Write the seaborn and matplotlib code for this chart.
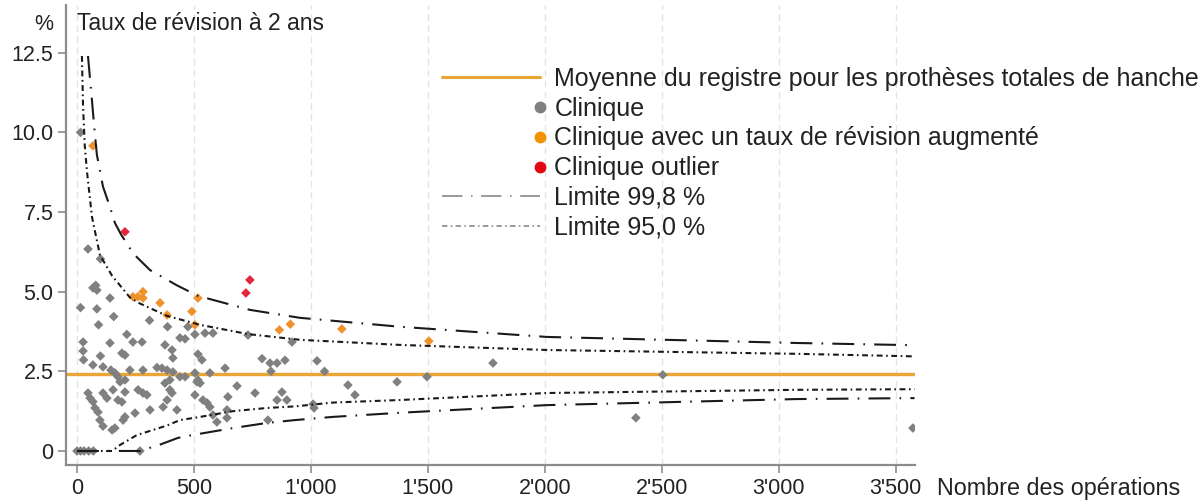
import numpy as np
import pandas as pd
import matplotlib
matplotlib.use("Agg")
import matplotlib.pyplot as plt
import seaborn as sns
from matplotlib.lines import Line2D
from matplotlib.legend_handler import HandlerLine2D

# ---------------- data ----------------
grey_x = [15, 47, 100, 68, 80, 85, 15, 85, 141, 157, 92, 213, 310, 387, 440, 474, 504, 547, 581, 731, 919,
          26, 26, 28, 100, 141, 192, 205, 239, 278, 376, 406, 462, 410, 517, 534,
          68, 111, 145, 162, 175, 184, 205, 226, 282, 342, 363, 385, 410, 440, 462, 504, 517, 526, 568, 633,
          791, 825, 855, 889, 829, 1026, 1058, 1158, 1188, 1368, 1496, 1778, 2504, 2389, 3573,
          47, 56, 68, 77, 90, 98, 111, 150, 162, 111, 128, 154, 175, 192, 205, 205, 197, 248, 261, 282, 299,
          312, 368, 376, 397, 397, 406, 385, 427, 504, 538, 556, 568, 581, 598, 641, 645, 641, 684, 761, 816,
          855, 876, 897, 1009, 1013, 513,
          0, 15, 30, 50, 70, 269]
grey_y = [10.0, 6.34, 6.03, 5.12, 5.2, 5.05, 4.5, 4.46, 4.8, 4.22, 3.96, 3.66, 4.1, 3.9, 3.55, 3.9, 3.66, 3.7, 3.7, 3.64, 3.42,
          3.42, 3.14, 2.86, 2.98, 3.39, 3.07, 3.01, 3.42, 3.42, 3.33, 3.17, 3.52, 2.92, 3.04, 2.86,
          2.70, 2.64, 2.54, 2.45, 2.33, 2.17, 2.23, 2.54, 2.54, 2.62, 2.60, 2.54, 2.48, 2.33, 2.33, 2.45, 2.23, 2.13, 2.45, 2.60,
          2.90, 2.76, 2.76, 2.85, 2.50, 2.83, 2.50, 2.07, 1.76, 2.17, 2.33, 2.76, 2.39, 1.04, 0.72,
          1.82, 1.66, 1.55, 1.35, 1.22, 0.97, 0.78, 0.66, 0.72, 1.82, 1.66, 1.92, 1.60, 1.54, 1.85, 1.07, 0.97, 1.19, 1.92, 1.82, 1.76,
          1.29, 1.38, 2.13, 2.23, 1.92, 1.82, 1.60, 1.29, 1.76, 1.60, 1.51, 1.38, 1.13, 0.91, 1.29, 1.70, 1.04, 2.04, 1.82, 0.97,
          1.60, 1.85, 1.60, 1.47, 1.35, 2.17,
          0, 0, 0, 0, 0, 0]

orange_x = [68, 239, 260, 282, 282, 355, 385, 491, 504, 517, 865, 912, 1132, 1504]
orange_y = [9.58, 4.84, 4.84, 5.0, 4.80, 4.65, 4.27, 4.38, 3.96, 4.80, 3.80, 3.98, 3.83, 3.45]

red_x = [205, 722, 739]
red_y = [6.88, 4.96, 5.37]

mean_rate = 2.42

up998_x = [47, 64, 77, 85, 111, 141, 162, 188, 240, 312, 427, 517, 739, 953, 1380, 2009, 3077, 3580]
up998_y = [12.4, 11.0, 9.9, 9.3, 8.3, 7.66, 7.16, 6.8, 6.2, 5.68, 5.2, 4.87, 4.43, 4.18, 3.9, 3.58, 3.39, 3.32]
lo998_x = [0, 269, 355, 431, 470, 667, 812, 932, 1094, 1380, 2009, 3077, 3580]
lo998_y = [0, 0, 0.2, 0.41, 0.47, 0.72, 0.88, 0.97, 1.07, 1.2, 1.44, 1.63, 1.66]
up95_x = [21, 26, 33, 43, 64, 98, 150, 226, 269, 385, 526, 731, 953, 1380, 2009, 3077, 3580]
up95_y = [12.4, 10.8, 9.6, 8.75, 7.35, 6.15, 5.5, 4.82, 4.63, 4.24, 3.96, 3.67, 3.49, 3.33, 3.17, 3.05, 2.97]
lo95_x = [0, 150, 184, 256, 385, 440, 526, 667, 812, 932, 1094, 1380, 2009, 3077, 3580]
lo95_y = [0, 0, 0.19, 0.5, 0.8, 0.97, 1.07, 1.25, 1.35, 1.4, 1.52, 1.6, 1.82, 1.92, 1.94]

x_ticks = [0, 500, 1000, 1500, 2000, 2500, 3000, 3500]
x_labels = ["0", "500", "1'000", "1'500", "2'000", "2'500", "3'000", "3'500"]
y_ticks = [0, 2.5, 5.0, 7.5, 10.0, 12.5]
y_labels = ["0", "2.5", "5.0", "7.5", "10.0", "12.5"]

labels = ["Moyenne du registre pour les prothèses totales de hanche",
          "Clinique",
          "Clinique avec un taux de révision augmenté",
          "Clinique outlier",
          "Limite 99,8 %",
          "Limite 95,0 %"]

# ---------------- style ----------------
sns.set_theme(style="white")
plt.rcParams["font.family"] = ["Liberation Sans", "DejaVu Sans"]
FS = 15.5
FS_LEG = 18
TXT = "#222222"
GREY = "#808080"
ORANGE = "#F0922B"
RED = "#E3263B"
MEAN_C = "#E9A535"
LINE_C = "#1a1a1a"

fig = plt.figure(figsize=(12.03, 5.0), dpi=100)
ax = fig.add_axes([66 / 1203, 35 / 500, (915 - 66) / 1203, (465 - 5) / 500])

df = pd.DataFrame({
    "n": grey_x + orange_x + red_x,
    "rate": grey_y + orange_y + red_y,
    "cat": ["g"] * len(grey_x) + ["o"] * len(orange_x) + ["r"] * len(red_x),
})

ax.axhline(mean_rate, color=MEAN_C, lw=2.4, zorder=2)
sns.scatterplot(data=df, x="n", y="rate", hue="cat",
                palette={"g": GREY, "o": ORANGE, "r": RED},
                marker="D", s=24, edgecolor="none", legend=False, ax=ax, zorder=3)

d998 = (10.5, 4.4, 0.8, 4.4)
d95 = (2.8, 1.7, 0.8, 1.7)
ax.plot(up998_x, up998_y, color=LINE_C, lw=1.5, dashes=d998, zorder=4)
ax.plot(lo998_x, lo998_y, color=LINE_C, lw=1.5, dashes=d998, zorder=4)
ax.plot(up95_x, up95_y, color=LINE_C, lw=1.5, dashes=d95, zorder=4)
ax.plot(lo95_x, lo95_y, color=LINE_C, lw=1.5, dashes=d95, zorder=4)

ax.set_xlim(-47, 3582)
ax.set_ylim(-0.44, 14.0)
ax.set_xticks(x_ticks)
ax.set_xticklabels(x_labels, fontsize=FS, color=TXT)
ax.set_yticks(y_ticks)
ax.set_yticklabels(y_labels, fontsize=FS, color=TXT)
ax.set_xlabel("")
ax.set_ylabel("")
ax.tick_params(axis="both", which="major", direction="out", length=6, width=1.2,
               color="#8c8c8c", bottom=True, left=True)
ax.tick_params(axis="x", pad=3)
ax.tick_params(axis="y", pad=3)
ax.xaxis.grid(True, color="#e4e4e4", lw=1.0, ls=(0, (5, 3)))
ax.yaxis.grid(False)
for s in ["top", "right"]:
    ax.spines[s].set_visible(False)
for s in ["left", "bottom"]:
    ax.spines[s].set_color("#8c8c8c")
    ax.spines[s].set_linewidth(1.6)

fig.text(53 / 1203, 1 - 24 / 500, "%", fontsize=FS, ha="right", va="center", color=TXT)
fig.text(77 / 1203, 1 - 24 / 500, "Taux de révision à 2 ans", fontsize=16.5, ha="left", va="center", color=TXT)
fig.text(937 / 1203, 1 - 495 / 500, "Nombre des opérations", fontsize=16.8, ha="left", va="baseline", color=TXT)


class RightMarkerHandler(HandlerLine2D):
    def get_xdata(self, legend, xdescent, ydescent, width, height, fontsize):
        xm = -xdescent + width * 1.01
        return np.array([xm - 1.0, xm + 1.0]), np.array([xm])


handles = [
    Line2D([], [], color=MEAN_C, lw=2.2),
    Line2D([], [], ls="none", marker="o", color=GREY, markersize=7.5),
    Line2D([], [], ls="none", marker="o", color="#F39200", markersize=7.5),
    Line2D([], [], ls="none", marker="o", color="#E30613", markersize=7.5),
    Line2D([], [], color="#9a9a9a", lw=1.4, dashes=d998),
    Line2D([], [], color="#9a9a9a", lw=1.4, dashes=d95),
]
handler_map = {h: RightMarkerHandler() for h in handles[1:4]}
leg = fig.legend(handles, labels, loc="upper left", bbox_to_anchor=(442 / 1203, 1 - 67 / 500),
                 frameon=False, fontsize=FS_LEG, handlelength=3.9, handletextpad=0.6,
                 labelspacing=0.23, borderpad=0, borderaxespad=0, numpoints=1,
                 handler_map=handler_map)
for t in leg.get_texts():
    t.set_color(TXT)

fig.savefig("out.png", dpi=100)
